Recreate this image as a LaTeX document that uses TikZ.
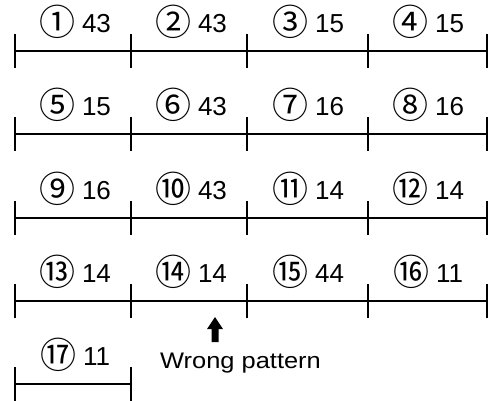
\documentclass[tikz,border=0pt]{standalone}
\usepackage{fontspec}
\setmainfont{Liberation Sans}
\newfontfamily\cjk{Noto Sans CJK JP}
\newcommand{\circnum}[2]{\raisebox{-3pt}{\cjk\fontsize{36}{36}\selectfont #1}\hspace{7pt}#2}
\begin{document}
\begin{tikzpicture}[x=1pt,y=-1pt,
  seg/.style={line width=1.9pt},
  tickmark/.style={line width=1.4pt},
  lab/.style={font=\fontsize{26}{26}\selectfont, inner sep=0pt, anchor=base},
  note/.style={font=\fontsize{22.5}{22.5}\selectfont, inner sep=0pt, anchor=base west},
]
\useasboundingbox (0,0) rectangle (492,400);
% coordinates of tick marks
\foreach \r/\y in {1/51,2/134,3/218,4/301,5/384}{
  \foreach \i/\x in {0/15,1/131,2/247,3/368,4/487}{
    \coordinate (t\r-\i) at (\x,\y);
  }
}
% full rows
\foreach \r in {1,2,3,4}{
  \draw[seg] (t\r-0) -- (t\r-4);
  \foreach \i in {0,...,4}{
    \draw[tickmark] ([yshift=17pt]t\r-\i) -- ([yshift=-17pt]t\r-\i);
  }
}
% last row
\draw[seg] (t5-0) -- (t5-1);
\foreach \i in {0,1}{
  \draw[tickmark] ([yshift=17pt]t5-\i) -- ([yshift=-17pt]t5-\i);
}
% labels
\node[lab] (l1)  at (75,32)   {\circnum{①}{43}};
\node[lab] (l2)  at (191,32)  {\circnum{②}{43}};
\node[lab] (l3)  at (308,32)  {\circnum{③}{15}};
\node[lab] (l4)  at (428,32)  {\circnum{④}{15}};
\node[lab] (l5)  at (75,115)  {\circnum{⑤}{15}};
\node[lab] (l6)  at (191,115) {\circnum{⑥}{43}};
\node[lab] (l7)  at (308,115) {\circnum{⑦}{16}};
\node[lab] (l8)  at (428,115) {\circnum{⑧}{16}};
\node[lab] (l9)  at (75,199)  {\circnum{⑨}{16}};
\node[lab] (l10) at (191,199) {\circnum{⑩}{43}};
\node[lab] (l11) at (308,199) {\circnum{⑪}{14}};
\node[lab] (l12) at (428,199) {\circnum{⑫}{14}};
\node[lab] (l13) at (75,282)  {\circnum{⑬}{14}};
\node[lab] (l14) at (191,282) {\circnum{⑭}{14}};
\node[lab] (l15) at (308,282) {\circnum{⑮}{44}};
\node[lab] (l16) at (428,282) {\circnum{⑯}{11}};
\node[lab] (l17) at (75,365)  {\circnum{⑰}{11}};
% wrong pattern note with block arrow
\node[note] (wrong) at (160,368) {\scalebox{1.13}[1]{Wrong pattern}};
\coordinate (arrtip) at (215,317);
\fill ([xshift=-8pt,yshift=-12pt]arrtip) -- (arrtip) -- ([xshift=8pt,yshift=-12pt]arrtip)
  -- ([xshift=3.5pt,yshift=-12pt]arrtip) -- ([xshift=3.5pt,yshift=-25pt]arrtip)
  -- ([xshift=-3.5pt,yshift=-25pt]arrtip) -- ([xshift=-3.5pt,yshift=-12pt]arrtip) -- cycle;
\end{tikzpicture}
\end{document}
